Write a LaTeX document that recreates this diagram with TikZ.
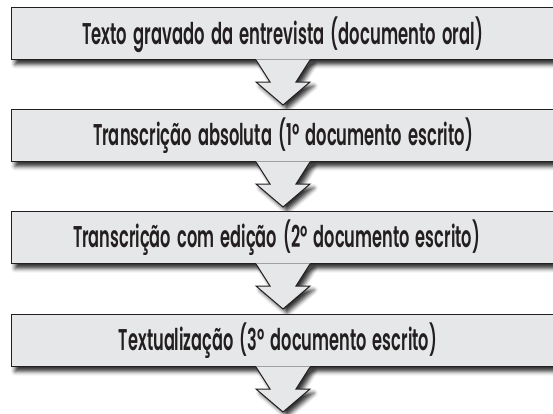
\documentclass[tikz,border=0pt]{standalone}
\usepackage{fontspec}
\setmainfont{Poppins}[BoldFont={Poppins SemiBold}]
\usetikzlibrary{shadows.blur}
\definecolor{boxgray}{HTML}{E6E7E8}
\definecolor{ink}{HTML}{231F20}
\newcommand{\hfit}[2]{\resizebox{#1}{\height}{\spaceskip=0.38em\relax #2}}
\newcommand{\flowarrow}[1]{%
  \begin{scope}[shift={(#1.south)}]
    \path[arrowfill] (-27,-0.6) -- (-27,0) -- (-13,22) -- (-27,22) -- (0,45) -- (27,22) -- (13,22) -- (27,0) -- (27,-0.6) -- cycle;
    \draw[arrowline] (-27,0) -- (-13,22) -- (-27,22) -- (0,45) -- (27,22) -- (13,22) -- (27,0);
  \end{scope}}
\begin{document}
\begin{tikzpicture}[x=1pt,y=-1pt,
  stepbox/.style={draw=ink, line width=1pt, fill=boxgray, minimum width=544pt,
    minimum height=52pt, inner sep=0pt,
    blur shadow={shadow xshift=4pt, shadow yshift=-5pt, shadow blur radius=4pt, shadow opacity=80}},
  lbl/.style={anchor=base, text=ink, font=\fontsize{30}{30}\selectfont\bfseries, inner sep=0pt},
  arrowfill/.style={fill=boxgray,
    blur shadow={shadow xshift=4pt, shadow yshift=-4pt, shadow blur radius=4pt, shadow opacity=80}},
  arrowline/.style={draw=ink, line width=1pt, line join=miter}]
\useasboundingbox (0,0) rectangle (553,413);
\clip (0,0) rectangle (553,413);

\node[stepbox] (b1) at (283,33.5) {};
\node[lbl] (t1) at ([xshift=-0.5pt,yshift=-10.5pt]b1.center) {\hfit{401pt}{Texto gravado da entrevista (documento oral)}};
\flowarrow{b1}

\node[stepbox] (b2) at (283,135.5) {};
\node[lbl] (t2) at ([yshift=-9.5pt]b2.center) {\hfit{380pt}{Transcrição absoluta (1º documento escrito)}};
\flowarrow{b2}

\node[stepbox] (b3) at (283,237.5) {};
\node[lbl] (t3) at ([xshift=-6.5pt,yshift=-9.5pt]b3.center) {\hfit{407pt}{Transcrição com edição (2º documento escrito)}};
\flowarrow{b3}

\node[stepbox] (b4) at (283,340.5) {};
\node[lbl] (t4) at ([xshift=-5pt,yshift=-9.5pt]b4.center) {\hfit{318pt}{Textualização (3º documento escrito)}};
\flowarrow{b4}
\end{tikzpicture}
\end{document}
